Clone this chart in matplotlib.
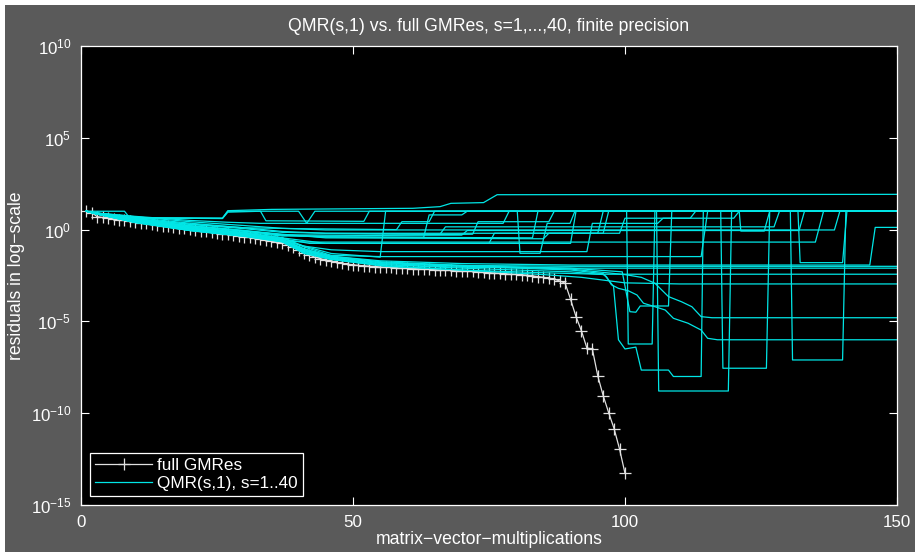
import numpy as np
import matplotlib
matplotlib.use('Agg')
import matplotlib.pyplot as plt
from matplotlib.patches import Rectangle

plt.rcParams['font.family'] = ['Liberation Sans', 'DejaVu Sans']

# ==========================================
# DATA (residuals as log10 values)
# ==========================================

# full GMRes, one value per matrix-vector multiplication 1..100
gmres_x = list(range(1, 101))
gmres_log = [1.0, 0.92, 0.70, 0.66, 0.62, 0.58, 0.54, 0.50, 0.46, 0.42,
             0.38, 0.34, 0.30, 0.26, 0.22, 0.18, 0.14, 0.10, 0.06, 0.02,
             -0.02, -0.06, -0.10, -0.14, -0.18, -0.22, -0.26, -0.30, -0.34, -0.38,
             -0.42, -0.46, -0.50, -0.55, -0.60, -0.66, -0.72, -0.82, -0.95, -1.10,
             -1.25, -1.38, -1.50, -1.58, -1.65, -1.72, -1.78, -1.84, -1.88, -1.92,
             -1.95, -1.97, -1.99, -2.01, -2.03, -2.05, -2.06, -2.08, -2.09, -2.10,
             -2.12, -2.13, -2.15, -2.16, -2.18, -2.19, -2.20, -2.22, -2.23, -2.25,
             -2.27, -2.28, -2.30, -2.32, -2.34, -2.36, -2.38, -2.40, -2.42, -2.44,
             -2.46, -2.48, -2.52, -2.56, -2.60, -2.64, -2.70, -2.80, -2.92, -3.80,
             -4.74, -5.52, -6.45, -6.50, -7.97, -9.05, -9.97, -10.84, -11.95, -13.27]

# QMR(s,1) curves, breakpoints (iteration, log10 residual)
qmr_top = [
    [(1, 1.0), (8, 1.0), (9, 0.62), (26, 0.62), (27, 1.03), (35, 1.1), (61, 1.16), (66, 1.25),
     (68, 1.43), (74, 1.47), (76.5, 1.9), (150, 1.92)],
]

qmr_stagnating = [
    [(1, 1.0), (3, 0.9), (9, 0.64), (26, 0.6), (27, 0.95), (33, 1.0), (34, 0.48), (52, 0.45), (53, 1.0), (150, 1.0)],
    [(1, 1.0), (3, 0.9), (9, 0.66), (26, 0.62), (27, 1.0), (40, 1.0), (41.5, 0.34), (43, 1.0), (150, 1.0)],
    [(1, 1.0), (3, 0.9), (10, 0.7), (20, 0.43), (30, 0.22), (37, 0.07), (45, -0.02), (138.5, -0.02), (139.5, 1.0), (150, 1.0)],
    [(1, 1.0), (3, 0.84), (10, 0.38), (20, -0.05), (30, -0.35), (37, -0.62), (42, -0.68), (135, -0.68), (136.5, 1.0), (150, 1.0)],
    [(1, 1.0), (3, 0.86), (10, 0.5), (20, 0.12), (30, -0.18), (37, -0.45), (41, -0.95), (46, -1.4), (55, -1.47),
     (114, -1.47), (115.2, 1.0), (150, 1.0)],
]

qmr_dips = [
    [(1, 1.0), (3, 0.89), (10, 0.65), (20, 0.35), (30, 0.1), (37, -0.1), (45, -0.2), (95, -0.2), (96, 1.0),
     (105.8, 1.0), (106.2, -8.79), (119, -8.79), (119.6, 1.0), (150, 1.0)],
    [(1, 1.0), (3, 0.9), (10, 0.72), (20, 0.5), (27, 0.4), (33, 0.34), (77.6, 0.34), (78.7, 1.0),
     (117.6, 1.0), (118, -7.55), (126, -7.55), (126.6, 1.0), (150, 1.0)],
    [(1, 1.0), (3, 0.87), (10, 0.55), (20, 0.2), (30, -0.05), (37, -0.3), (45, -0.4), (83, -0.45), (84, 1.0),
     (130.4, 1.0), (130.8, -7.1), (140, -7.1), (140.6, 1.0), (150, 1.0)],
    [(1, 1.0), (3, 0.85), (10, 0.42), (20, 0.0), (30, -0.3), (37, -0.6), (41, -1.15), (46, -1.55), (55, -1.85),
     (70, -2.0), (90, -2.2), (96, -2.4), (97, -2.75), (97.9, -3.1), (98.8, -6.0), (100, -6.5), (102, -6.4),
     (103, -7.65), (108, -7.65), (108.9, -8.0), (114, -8.0), (114.4, 1.0), (150, 1.0)],
    [(1, 1.0), (3, 0.86), (10, 0.48), (20, 0.08), (30, -0.25), (37, -0.5), (42, -0.75), (90, -0.75), (91, 1.0),
     (100.3, 1.0), (100.6, -6.23), (105, -6.23), (105.5, 1.0), (150, 1.0)],
    [(1, 1.0), (3, 0.85), (10, 0.4), (20, -0.02), (30, -0.33), (37, -0.64), (41, -1.2), (46, -1.58), (55, -1.9),
     (70, -2.1), (90, -2.3), (96, -2.45), (96.6, -2.56), (97.5, -3.0), (98.8, -3.2), (100.6, -3.33),
     (102.2, -3.56), (103.4, -4.01), (105.5, -4.2), (107.4, -4.38), (108.9, -4.83), (111.6, -5.1),
     (114, -5.47), (115.2, -5.92), (117, -6.0), (150, -6.0)],
    [(1, 1.0), (3, 0.86), (10, 0.46), (20, 0.06), (30, -0.26), (37, -0.52), (41, -1.05), (46, -1.45), (55, -1.75),
     (70, -1.95), (90, -2.15), (100, -2.45), (103, -2.6), (105.5, -2.92), (108, -3.65), (110.4, -3.93),
     (112.3, -4.2), (114, -4.74), (116, -4.8), (150, -4.8)],
    [(1, 1.0), (3, 0.85), (10, 0.44), (20, 0.03), (30, -0.3), (37, -0.58), (41, -1.1), (46, -1.5), (55, -1.8),
     (70, -1.98), (90, -2.1), (99.5, -2.3), (100.9, -4.47), (102, -4.5), (102.8, -4.16), (108, -4.16),
     (108.6, 1.0), (150, 1.0)],
]

qmr_low = [
    [(1, 1.0), (3, 0.85), (10, 0.45), (20, 0.05), (30, -0.28), (37, -0.55), (41, -1.05), (46, -1.45), (55, -1.7),
     (70, -1.85), (90, -1.93), (145, -1.93), (146, 0.12), (150, 0.12)],
    [(1, 1.0), (3, 0.85), (10, 0.43), (20, 0.02), (30, -0.3), (37, -0.6), (41, -1.15), (46, -1.5), (55, -1.8),
     (70, -1.95), (90, -2.0), (150, -2.0)],
    [(1, 1.0), (3, 0.84), (10, 0.4), (20, -0.03), (30, -0.34), (37, -0.65), (41, -1.25), (46, -1.6), (55, -1.9),
     (70, -2.05), (90, -2.1), (150, -2.1)],
    [(1, 1.0), (3, 0.84), (10, 0.39), (20, -0.04), (30, -0.36), (37, -0.66), (41, -1.3), (46, -1.62), (55, -1.95),
     (70, -2.2), (85, -2.35), (95, -2.43), (150, -2.43)],
    [(1, 1.0), (3, 0.84), (10, 0.4), (20, -0.05), (30, -0.37), (37, -0.67), (41, -1.28), (46, -1.63), (56, -2.0),
     (70, -2.2), (85, -2.45), (92, -2.6), (100, -2.9), (110, -2.96), (150, -2.96)],
]

qmr_steps = [
    [(1, 1.0), (3, 0.88), (10, 0.6), (20, 0.3), (30, 0.1), (40, 0.05), (58, 0.0), (59, 0.43), (64, 0.43), (65, 1.0),
     (80.2, 1.0), (80.7, -1.29), (84.4, -1.29), (85.7, 0.34), (89.9, 0.34), (90.8, 1.0), (150, 1.0)],
    [(1, 1.0), (3, 0.87), (10, 0.52), (20, 0.15), (30, -0.15), (37, -0.35), (45, -0.35), (72, -0.25), (73, 0.43),
     (86, 0.43), (87, 1.0), (150, 1.0)],
    [(1, 1.0), (3, 0.86), (10, 0.48), (20, 0.1), (30, -0.2), (37, -0.45), (45, -0.75), (75, -0.75), (76, -0.2),
     (96, -0.2), (97, 1.0), (121, 1.0), (121.3, -0.08), (125.6, -0.08), (126.6, 1.0), (150, 1.0)],
    [(1, 1.0), (3, 0.88), (10, 0.55), (20, 0.22), (30, -0.05), (37, -0.25), (45, -0.45), (85, -0.5), (86, -0.2),
     (99, -0.2), (100, 0.62), (120, 0.62), (121, 1.0), (150, 1.0)],
    [(1, 1.0), (3, 0.85), (10, 0.44), (20, 0.04), (30, -0.3), (37, -0.58), (41, -0.9), (46, -1.1), (55, -1.2),
     (93, -1.2), (94, 0.34), (106, 0.34), (107, 0.62), (112, 0.62), (113, 1.0), (150, 1.0)],
    [(1, 1.0), (3, 0.86), (10, 0.5), (20, 0.12), (30, -0.2), (37, -0.45), (41, -0.9), (46, -1.3), (55, -1.5),
     (56, 1.0), (131.8, 1.0), (132.2, -1.8), (140, -1.8), (140.8, 1.0), (150, 1.0)],
    [(1, 1.0), (3, 0.87), (10, 0.55), (20, 0.2), (30, -0.1), (37, -0.3), (45, -0.4), (63, -0.42), (64, 0.8),
     (70, 0.8), (71, 1.0), (150, 1.0)],
    [(1, 1.0), (3, 0.88), (10, 0.6), (20, 0.28), (30, 0.05), (37, -0.15), (45, -0.2), (66, -0.25), (67, 0.15),
     (127.4, 0.15), (128.4, 1.0), (150, 1.0)],
    [(1, 1.0), (3, 0.87), (10, 0.56), (20, 0.2), (30, -0.08), (37, -0.28), (45, -0.3), (70, -0.3), (71, -0.05),
     (132, -0.05), (133, 1.0), (150, 1.0)],
]

# ==========================================
# PLOT
# ==========================================

fs = 12.7

fig = plt.figure(figsize=(9.15, 5.52), dpi=100, facecolor='#5a5a5a')
fig.patches.append(Rectangle((0, 1 - 5 / 552), 1, 5 / 552, transform=fig.transFigure,
                             facecolor='white', edgecolor='none'))
fig.patches.append(Rectangle((0, 0), 5 / 915, 1, transform=fig.transFigure,
                             facecolor='white', edgecolor='none'))

ax = fig.add_axes([0.0885, 0.0851, 0.8918, 0.8316])
ax.set_facecolor('black')

ax.semilogy(gmres_x, 10.0 ** np.array(gmres_log), color='#e0e0e0', lw=0.9,
            marker='+', markersize=8, markeredgewidth=0.9, label='full GMRes')

cyan = '#00e6e6'
first = True
for group in [qmr_top, qmr_stagnating, qmr_dips, qmr_low, qmr_steps]:
    for curve in group:
        cx = [p[0] for p in curve]
        cy = [10.0 ** p[1] for p in curve]
        ax.semilogy(cx, cy, color=cyan, lw=0.9,
                    label='QMR(s,1), s=1..40' if first else None)
        first = False

ax.set_xlim(0, 150)
ax.set_ylim(1e-15, 1e10)
ax.set_xticks([0, 50, 100, 150])
ax.set_yticks([1e-15, 1e-10, 1e-5, 1e0, 1e5, 1e10])
ax.minorticks_off()
ax.tick_params(direction='in', length=6, width=0.8, colors='white', labelsize=12.2,
               top=True, right=True, pad=7)
for sp in ax.spines.values():
    sp.set_color('white')
    sp.set_linewidth(0.9)

ax.set_title('QMR(s,1) vs. full GMRes, s=1,...,40, finite precision', color='white',
             fontsize=fs, pad=11)
ax.set_xlabel('matrix\u2212vector\u2212multiplications', color='white', fontsize=fs, labelpad=1)
ax.set_ylabel('residuals in log\u2212scale', color='white', fontsize=fs)
ax.yaxis.set_label_coords(-0.068, 0.5)

leg = ax.legend(loc='lower left', fontsize=12.3, handlelength=3.3, borderaxespad=0.55,
                fancybox=False, framealpha=1, facecolor='black', edgecolor='white',
                borderpad=0.3, labelspacing=0.15, handletextpad=0.3)
leg.get_frame().set_linewidth(0.9)
for t in leg.get_texts():
    t.set_color('white')

fig.savefig('out.png', dpi=100, facecolor=fig.get_facecolor())
